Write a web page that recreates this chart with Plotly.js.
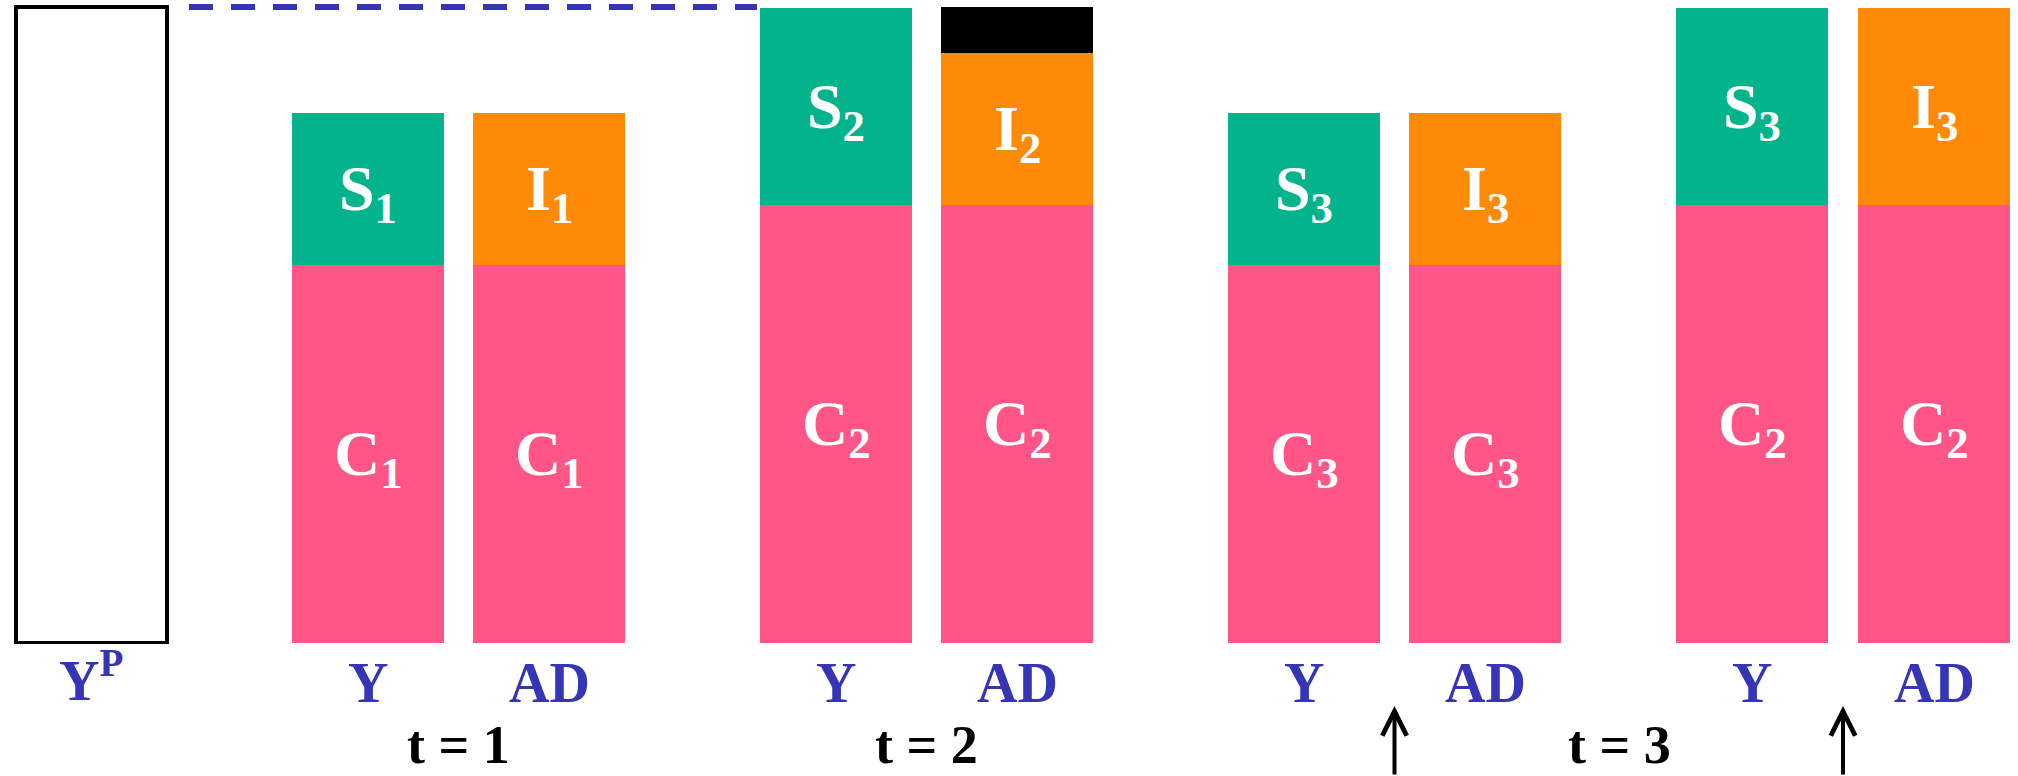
<!DOCTYPE html>
<html>
<head>
<meta charset="utf-8">
<script src="https://cdn.plot.ly/plotly-3.0.1.min.js"></script>
<style>
  html, body { margin: 0; padding: 0; background: #ffffff; }
  #chart { width: 2018px; height: 776px; }
</style>
</head>
<body>
<div id="chart"></div>
<script>
// ---- data ----------------------------------------------------------
// Labels under each column (potential output, then Y / AD pairs per period)
const slotLabels = ['Y<sup>P</sup>', 'Y', 'AD', 'Y', 'AD', 'Y', 'AD', 'Y', 'AD'];
const periodLabels = ['t = 1', 't = 2', 't = 3'];

// Potential output (empty outlined column)
const potentialOutput = [100];

// Consumption block at the bottom of each Y / AD column
const consumption = [59.4, 59.4, 68.8, 68.8, 59.4, 59.4, 68.8, 68.8];
const consumptionText = ['C<sub>1</sub>', 'C<sub>1</sub>', 'C<sub>2</sub>', 'C<sub>2</sub>',
                         'C<sub>3</sub>', 'C<sub>3</sub>', 'C<sub>2</sub>', 'C<sub>2</sub>'];

// Saving (on Y columns) and investment (on AD columns) on top of consumption
const savingInvestment = [23.9, 23.9, 31.0, 24.0, 23.9, 23.9, 31.0, 31.0];
const savingInvestmentText = ['S<sub>1</sub>', 'I<sub>1</sub>', 'S<sub>2</sub>', 'I<sub>2</sub>',
                              'S<sub>3</sub>', 'I<sub>3</sub>', 'S<sub>3</sub>', 'I<sub>3</sub>'];
const savingInvestmentKind = ['S', 'I', 'S', 'I', 'S', 'I', 'S', 'I'];

// Extra block on top of AD in period 2
const extraDemand = [7.2];

// ---- layout constants ---------------------------------------------
const W = 2018, H = 776;
const plotBottom = 646;               // pixel row of the plot-area bottom
const barWidth = 152;
// horizontal centres of the nine columns
const slotX = [91.4, 368, 549, 836, 1017, 1304, 1485, 1752, 1934];
const pairX = slotX.slice(1);
const periodX = [(slotX[1] + slotX[2]) / 2, (slotX[3] + slotX[4]) / 2, (slotX[5] + slotX[8]) / 2];
const arrowX = [(slotX[5] + slotX[6]) / 2, (slotX[7] + slotX[8]) / 2];

const COLORS = { C: '#FF5687', S: '#03B38B', I: '#FF8A08', extra: '#000000', blue: '#3535B5' };
const FONT = 'Liberation Serif, Times New Roman, serif';

const paperY = p => (plotBottom - p) / plotBottom;

// ---- traces --------------------------------------------------------
const traces = [
  {
    type: 'bar', x: [slotX[0]], y: potentialOutput, width: barWidth - 1,
    marker: { color: '#ffffff', line: { color: '#000000', width: 3.5 } },
    hoverinfo: 'skip'
  },
  {
    type: 'bar', x: pairX, y: consumption, width: barWidth,
    marker: { color: COLORS.C, line: { width: 0 } },
    hoverinfo: 'skip'
  },
  {
    type: 'bar', x: pairX, y: savingInvestment, width: barWidth,
    marker: { color: savingInvestmentKind.map(k => COLORS[k]), line: { width: 0 } },
    hoverinfo: 'skip'
  },
  {
    type: 'bar', x: [slotX[4]], y: extraDemand, width: barWidth,
    marker: { color: COLORS.extra, line: { width: 0 } },
    hoverinfo: 'skip'
  }
];

// ---- annotations ---------------------------------------------------
const annotations = [];
const insideFont = { family: FONT, size: 64, color: '#ffffff', weight: 'bold' };

// segment labels, centred on each stacked block
pairX.forEach((x, i) => {
  annotations.push({
    x: x, xref: 'x', y: consumption[i] / 2, yref: 'y',
    text: consumptionText[i], showarrow: false, xanchor: 'center', yanchor: 'middle',
    yshift: -4, font: insideFont
  });
  annotations.push({
    x: x, xref: 'x', y: consumption[i] + savingInvestment[i] / 2, yref: 'y',
    text: savingInvestmentText[i], showarrow: false, xanchor: 'center', yanchor: 'middle',
    yshift: -4, font: insideFont
  });
});

// column labels under the axis
slotLabels.forEach((t, i) => annotations.push({
  x: slotX[i], xref: 'x', y: paperY(683), yref: 'paper',
  text: t, showarrow: false, xanchor: 'center', yanchor: 'middle',
  yshift: t.indexOf('<sup>') >= 0 ? 7 : 0,
  font: { family: FONT, size: 56, color: COLORS.blue, weight: 'bold' }
}));

// period labels
periodLabels.forEach((t, i) => annotations.push({
  x: periodX[i], xref: 'x', y: paperY(745), yref: 'paper',
  text: t, showarrow: false, xanchor: 'center', yanchor: 'middle',
  font: { family: FONT, size: 54, color: '#000000', weight: 'bold' }
}));

// upward arrows between Y and AD in the last two pairs
arrowX.forEach(x => annotations.push({
  x: x, xref: 'x', y: paperY(706), yref: 'paper',
  text: '', showarrow: true, ax: 0, ay: 100,
  arrowhead: 5, arrowsize: 1.2, arrowwidth: 4, arrowcolor: '#000000', standoff: 0
}));

// ---- shapes: dashed potential-output level ------------------------
const shapes = [{
  type: 'line', xref: 'x', yref: 'y',
  x0: 189, x1: 757, y0: potentialOutput[0], y1: potentialOutput[0],
  line: { color: COLORS.blue, width: 6, dash: '24px,18px' }
}];

const layout = {
  width: W, height: H,
  margin: { l: 0, r: 0, t: 0, b: H - plotBottom, pad: 0 },
  paper_bgcolor: '#ffffff', plot_bgcolor: '#ffffff',
  barmode: 'stack', showlegend: false,
  xaxis: { range: [0, W], visible: false, fixedrange: true },
  yaxis: { range: [-0.55, 101.1], visible: false, fixedrange: true },
  annotations: annotations,
  shapes: shapes
};

Plotly.newPlot('chart', traces, layout, { displayModeBar: false, staticPlot: true });
</script>
</body>
</html>
